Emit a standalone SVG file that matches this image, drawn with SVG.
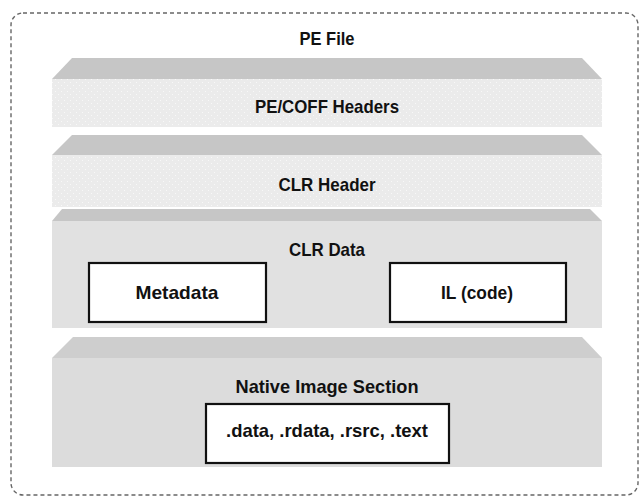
<svg xmlns="http://www.w3.org/2000/svg" width="640" height="498" viewBox="0 0 640 498">
  <style>
    .lbl { font-family: "Liberation Sans", Arial, sans-serif; font-weight: bold; font-size: 19px; fill: #111; text-anchor: middle; }
    .top { fill: #c6c6c6; }
    .top4 { fill: #cecece; }
    .front3 { fill: #e1e1e1; }
    .front4 { fill: #dcdcdc; }
    .box { fill: #ffffff; stroke: #111; stroke-width: 2.2; }
    .border { fill: none; stroke: #666; stroke-width: 1.4; stroke-dasharray: 4 3; }
  </style>
  <defs>
    <pattern id="dots" width="6" height="6" patternUnits="userSpaceOnUse">
      <rect width="6" height="6" fill="#ebebeb"/>
      <rect x="1" y="1" width="1" height="1" fill="#f8f8f8"/>
      <rect x="4" y="4" width="1" height="1" fill="#f8f8f8"/>
    </pattern>
  </defs>
  <rect id="pe-file-border" class="border" x="11" y="13" width="627" height="482" rx="12" ry="12"/>
  <g id="pe-file">
    <text class="lbl" x="327" y="45" textLength="55" lengthAdjust="spacingAndGlyphs">PE File</text>
  </g>
  <g id="pe-coff-headers">
    <polygon class="top" points="72,58 582,58 602,79 52,79"/>
    <rect x="52" y="79" width="550" height="48" fill="url(#dots)"/>
    <text class="lbl" x="327" y="113" textLength="144" lengthAdjust="spacingAndGlyphs">PE/COFF Headers</text>
  </g>
  <g id="clr-header">
    <polygon class="top" points="72,135 582,135 602,155 52,155"/>
    <rect x="52" y="155" width="550" height="52" fill="url(#dots)"/>
    <text class="lbl" x="327" y="191" textLength="97" lengthAdjust="spacingAndGlyphs">CLR Header</text>
  </g>
  <g id="clr-data">
    <polygon class="top" points="62,209 590,209 602,221 52,221"/>
    <rect class="front3" x="52" y="221" width="550" height="107"/>
    <text class="lbl" x="327" y="256" textLength="76" lengthAdjust="spacingAndGlyphs">CLR Data</text>
  </g>
  <g id="metadata">
    <rect class="box" x="89" y="263" width="177" height="59"/>
    <text class="lbl" x="177" y="299" textLength="83" lengthAdjust="spacingAndGlyphs">Metadata</text>
  </g>
  <g id="il-code">
    <rect class="box" x="390" y="263" width="176" height="59"/>
    <text class="lbl" x="477" y="299" textLength="72" lengthAdjust="spacingAndGlyphs">IL (code)</text>
  </g>
  <g id="native-image-section">
    <polygon class="top4" points="73,337 582,337 602,358 52,358"/>
    <rect class="front4" x="52" y="358" width="550" height="109"/>
    <text class="lbl" x="327" y="393" textLength="183" lengthAdjust="spacingAndGlyphs">Native Image Section</text>
  </g>
  <g id="sections">
    <rect class="box" x="206" y="404" width="243" height="59"/>
    <text class="lbl" x="327" y="437" textLength="202" lengthAdjust="spacingAndGlyphs">.data, .rdata, .rsrc, .text</text>
  </g>
  <g id="connectors"/>
</svg>
